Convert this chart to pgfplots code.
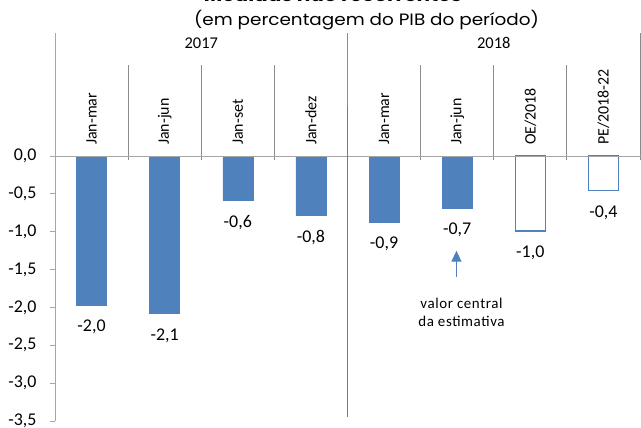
\documentclass[border=0pt]{standalone}
\usepackage{pgfplots}
\pgfplotsset{compat=1.18}
\usepackage{pgfplotstable}
\usepackage{fontspec}
\setmainfont{Carlito}
\newfontfamily\titlefont{Poppins}
\usetikzlibrary{arrows.meta}
\definecolor{barblue}{HTML}{4F81BD}
\definecolor{axgray}{HTML}{A6A6A6}
\definecolor{hdrgray}{HTML}{8C8C8C}

\pgfplotstableread{
x y lab
0.5 -1.97 -2,0
1.5 -2.08 -2,1
2.5 -0.59 -0,6
3.5 -0.78 -0,8
4.5 -0.87 -0,9
5.5 -0.69 -0,7
}\filled
\pgfplotstableread{
x y lab
6.5 -0.99 -1,0
7.5 -0.455 -0,4
}\hollow

\begin{document}
\begin{tikzpicture}
\begin{axis}[
  at={(55bp,7bp)}, anchor=south west,
  scale only axis, width=585bp, height=388bp,
  xmin=0, xmax=8, ymin=-3.5, ymax=1.625,
  axis x line=none, axis y line=left,
  axis line style={draw=axgray, line width=0.8bp, -},
  ytick={-3.5,-3,-2.5,-2,-1.5,-1,-0.5,0},
  yticklabels={{-3,5},{-3,0},{-2,5},{-2,0},{-1,5},{-1,0},{-0,5},{0,0}},
  tick align=outside, major tick length=5bp,
  y tick style={draw=axgray, line width=0.8bp},
  yticklabel style={font=\fontsize{18}{21}\selectfont, text=black, xshift=-10bp},
  clip=false,
  ybar, bar width=30bp, bar shift=0pt,
  nodes near coords, point meta=explicit symbolic,
  nodes near coords style={font=\fontsize{18}{21}\selectfont, anchor=center, yshift=-22bp, text=black},
]
% header separators
\draw[hdrgray, line width=0.8bp] (axis cs:4,1.625) -- (axis cs:4,-0.053);
\draw[hdrgray, line width=0.8bp] (axis cs:8,1.625) -- (axis cs:8,-0.053);
\pgfplotsinvokeforeach{1,2,3,5,6,7}{
  \draw[hdrgray, line width=0.8bp] (axis cs:#1,1.202) -- (axis cs:#1,-0.053);
}
\node[font=\fontsize{16.5}{19}\selectfont] at (axis cs:2,1.495) {2017};
\node[font=\fontsize{16.5}{19}\selectfont] at (axis cs:6,1.495) {2018};
\node[rotate=90, anchor=west, inner sep=0pt, font=\fontsize{16}{19}\selectfont] at (axis cs:0.5,0.145) {Jan-mar};
\node[rotate=90, anchor=west, inner sep=0pt, font=\fontsize{16}{19}\selectfont] at (axis cs:1.5,0.145) {Jan-jun};
\node[rotate=90, anchor=west, inner sep=0pt, font=\fontsize{16}{19}\selectfont] at (axis cs:2.5,0.145) {Jan-set};
\node[rotate=90, anchor=west, inner sep=0pt, font=\fontsize{16}{19}\selectfont] at (axis cs:3.5,0.145) {Jan-dez};
\node[rotate=90, anchor=west, inner sep=0pt, font=\fontsize{16}{19}\selectfont] at (axis cs:4.5,0.145) {Jan-mar};
\node[rotate=90, anchor=west, inner sep=0pt, font=\fontsize{16}{19}\selectfont] at (axis cs:5.5,0.145) {Jan-jun};
\node[rotate=90, anchor=west, inner sep=0pt, font=\fontsize{16}{19}\selectfont] at (axis cs:6.5,0.145) {OE/2018};
\node[rotate=90, anchor=west, inner sep=0pt, font=\fontsize{16}{19}\selectfont] at (axis cs:7.5,0.145) {PE/2018-22};

\addplot[fill=barblue, draw=barblue, line width=0.5bp] table[x=x,y=y,meta=lab]{\filled};
\addplot[fill=white, draw=barblue, line width=1.2bp] table[x=x,y=y,meta=lab]{\hollow};

% zero line
\draw[axgray, line width=0.8bp] ([xshift=-5bp]axis cs:0,0) -- (axis cs:8.02,0);
% divider
\draw[barblue, line width=1.1bp] (axis cs:4,0.647) -- (axis cs:4,-3.447);
% annotation
\draw[barblue, line width=1.3bp, -{Triangle[width=10bp,length=11bp]}] (axis cs:5.49,-1.598) -- (axis cs:5.49,-1.251);
\node[align=center, font=\fontsize{15}{18}\selectfont\addfontfeatures{LetterSpace=4}] at (axis cs:5.559,-2.06) {valor central\\da estimativa};
% titles
\node[anchor=base, inner sep=0pt] at (axis cs:3.80,2.035) {\scalebox{1.12}[1.0]{\titlefont\bfseries\fontsize{18}{20}\selectfont Medidas não recorrentes}};
\node[anchor=base, inner sep=0pt] at (axis cs:4.26,1.730) {\scalebox{1.12}[1.0]{\titlefont\fontsize{16.5}{19}\selectfont (em percentagem do PIB do período)}};
\end{axis}
\pgfresetboundingbox
\path[use as bounding box] (0,0) rectangle (641bp,428bp);
\end{tikzpicture}
\end{document}
